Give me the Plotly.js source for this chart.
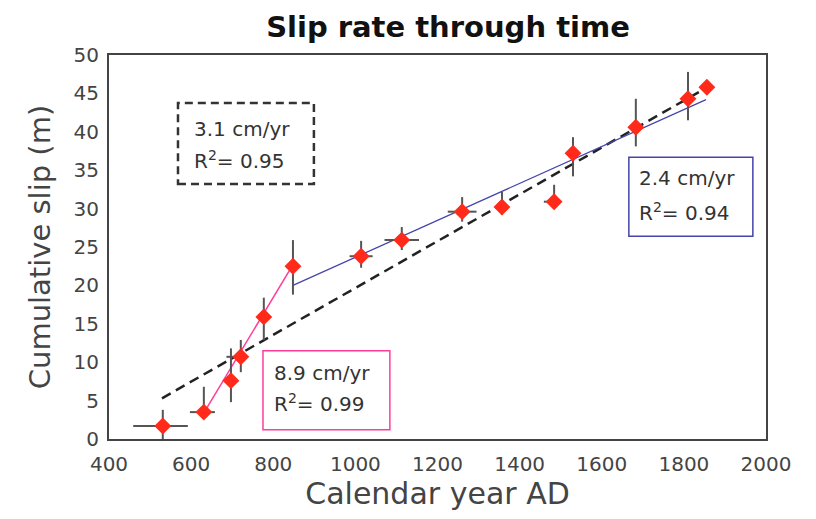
<!DOCTYPE html>
<html>
<head>
<meta charset="utf-8">
<script src="https://cdn.plot.ly/plotly-3.0.1.min.js"></script>
<style>html,body{margin:0;padding:0;background:#fff;}#chart{width:816px;height:519px;}</style>
</head>
<body>
<div id="chart"></div>
<script>
// Data
const years      = [531, 631, 697, 721, 777, 848, 1014, 1113, 1260, 1357, 1484, 1530, 1683, 1810, 1856];
const slip       = [1.7, 3.5, 7.6, 10.7, 15.9, 22.5, 23.8, 25.9, 29.6, 30.2, 30.9, 37.2, 40.6, 44.3, 45.8];
const slipErrUp  = [2.1, 3.3, 4.2, 2.2, 2.5, 3.4, 2.0, 1.7, 1.9, 2.0, 2.2, 2.1, 3.7, 3.5, 0];
const slipErrDn  = [1.7, 0.8, 2.8, 2.0, 3.0, 3.7, 1.5, 1.3, 1.3, 1.0, 0.5, 3.0, 2.5, 2.8, 0];
const yearErrUp  = [61, 27, 0, 0, 0, 0, 28, 42, 35, 0, 0, 0, 0, 0, 0];
const yearErrDn  = [72, 34, 0, 35, 0, 0, 28, 42, 35, 0, 25, 0, 0, 0, 0];

// Regression lines (end points)
const fitAllX   = [529, 1854];
const fitAllY   = [5.3, 45.7];
const fitEarlyX = [631, 848];
const fitEarlyY = [3.4, 22.7];
const fitLateX  = [848, 1854];
const fitLateY  = [20.0, 44.2];

const labelAll   = ['3.1 cm/yr', 'R<sup>2</sup>= 0.95'];
const labelEarly = ['8.9 cm/yr', 'R<sup>2</sup>= 0.99'];
const labelLate  = ['2.4 cm/yr', 'R<sup>2</sup>= 0.94'];

const pink = '#ff3c9a';
const blue = '#4444aa';
const txt = '#333333';
const FONT = 'DejaVu Sans, Liberation Sans, Arial, sans-serif';

const traces = [
  {x: fitAllX, y: fitAllY, mode: 'lines', line: {color: '#222', width: 2.5, dash: '10px,6px'}, hoverinfo: 'skip'},
  {x: fitLateX, y: fitLateY, mode: 'lines', line: {color: blue, width: 1.3}, hoverinfo: 'skip'},
  {x: fitEarlyX, y: fitEarlyY, mode: 'lines', line: {color: pink, width: 1.5}, hoverinfo: 'skip'},
  {x: years, y: slip, mode: 'markers',
   marker: {symbol: 'diamond', size: 13, color: '#ff2a1a', line: {width: 0}},
   error_y: {type: 'data', symmetric: false, array: slipErrUp, arrayminus: slipErrDn, color: '#555', thickness: 2, width: 0},
   error_x: {type: 'data', symmetric: false, array: yearErrUp, arrayminus: yearErrDn, color: '#555', thickness: 2, width: 0}}
];

const boxFont = {family: FONT, size: 20, color: txt};
function boxLabel(x, y, text) {
  return {x: x, y: y, xref: 'x', yref: 'y', text: text, showarrow: false,
          xanchor: 'left', yanchor: 'middle', align: 'left', font: boxFont};
}

const layout = {
  width: 816, height: 519,
  margin: {l: 109, r: 50, t: 55, b: 80},
  paper_bgcolor: '#fff', plot_bgcolor: '#fff',
  showlegend: false,
  font: {family: FONT, color: txt},
  title: {text: 'Slip rate through time', font: {family: FONT, size: 29, weight: 'bold', color: '#111'},
          x: 0.549, xref: 'container', xanchor: 'center', y: 0.948, yref: 'container', yanchor: 'middle'},
  xaxis: {range: [400, 2000], dtick: 200, tick0: 400, showgrid: false, zeroline: false,
          showline: true, mirror: true, linecolor: '#444', linewidth: 2, ticks: '',
          ticklabelstandoff: 6,
          tickfont: {size: 20, color: '#444'},
          title: {text: 'Calendar year AD', font: {size: 30, color: '#444'}, standoff: 7}},
  yaxis: {range: [0, 50], dtick: 5, showgrid: false, zeroline: false,
          showline: true, mirror: true, linecolor: '#444', linewidth: 2, ticks: '',
          ticklabelstandoff: 4,
          tickfont: {size: 20, color: '#444'},
          title: {text: 'Cumulative slip (m)', font: {size: 29, color: '#444'}, standoff: 14}},
  shapes: [
    {type: 'rect', xref: 'x', yref: 'y', x0: 568, x1: 899, y0: 33.2, y1: 43.75,
     line: {color: '#333', width: 2.5, dash: '8px,5px'}},
    {type: 'rect', xref: 'x', yref: 'y', x0: 775, x1: 1084, y0: 1.2, y1: 11.5,
     line: {color: pink, width: 1.5}},
    {type: 'rect', xref: 'x', yref: 'y', x0: 1666, x1: 1968, y0: 26.4, y1: 36.7,
     line: {color: blue, width: 1.5}}
  ],
  annotations: [
    boxLabel(602, 40.4, labelAll[0]), boxLabel(602, 36.3, labelAll[1]),
    boxLabel(797, 8.6, labelEarly[0]), boxLabel(797, 4.7, labelEarly[1]),
    boxLabel(1686, 34.0, labelLate[0]), boxLabel(1686, 29.6, labelLate[1])
  ]
};

Plotly.newPlot('chart', traces, layout, {displayModeBar: false, staticPlot: true});
</script>
</body>
</html>
